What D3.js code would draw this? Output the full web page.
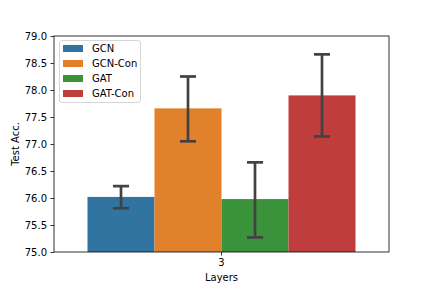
<!DOCTYPE html>
<html><head><meta charset="utf-8">
<script src="https://cdn.jsdelivr.net/npm/d3@7"></script>
<style>body{margin:0;background:#fff}svg{display:block;font-family:"DejaVu Sans",sans-serif}</style>
</head><body><svg id="c" width="432" height="288"></svg>
<script>
const categories = ["3"];
const series = ["GCN", "GCN-Con", "GAT", "GAT-Con"];
const means = [76.02, 77.66, 75.98, 77.90];
const errLow = [75.81, 77.05, 75.27, 77.14];
const errHigh = [76.22, 78.25, 76.66, 78.66];
const colors = ["#3274a1", "#e1812c", "#3a923a", "#c03d3e"];
const yTicks = [75.0, 75.5, 76.0, 76.5, 77.0, 77.5, 78.0, 78.5, 79.0];

const svg = d3.select("#c");
const m = {l: 54, r: 389, t: 36, b: 252};
const x = d3.scaleBand().domain(categories).range([m.l, m.r]).paddingInner(0).paddingOuter(0);
const y = d3.scaleLinear().domain([75, 79]).range([m.b, m.t]);
const xs = d3.scaleBand().domain(series).range([0, x.bandwidth()*0.8]);
const off = x.bandwidth()*0.1;

const g = svg.append("g");
series.forEach((s, i) => {
  const x0 = x(categories[0]) + off + xs(s);
  g.append("rect").attr("x", x0).attr("y", y(means[i])).attr("width", xs.bandwidth())
    .attr("height", y(75) - y(means[i])).attr("fill", colors[i]);
});
series.forEach((s, i) => {
  const cx = x(categories[0]) + off + xs(s) + xs.bandwidth()/2;
  const cw = xs.bandwidth()*0.12;
  const e = g.append("g").attr("stroke", "#424242").attr("stroke-width", 2.7).attr("fill", "none");
  e.append("line").attr("x1", cx).attr("x2", cx).attr("y1", y(errLow[i])).attr("y2", y(errHigh[i]));
  e.append("line").attr("x1", cx-cw).attr("x2", cx+cw).attr("y1", y(errLow[i])).attr("y2", y(errLow[i]));
  e.append("line").attr("x1", cx-cw).attr("x2", cx+cw).attr("y1", y(errHigh[i])).attr("y2", y(errHigh[i]));
});

const ya = svg.append("g").attr("transform", `translate(${m.l},0)`)
  .call(d3.axisLeft(y).tickValues(yTicks).tickFormat(d3.format(".1f")).tickSize(3.5).tickPadding(3.5));
const xa = svg.append("g").attr("transform", `translate(0,${m.b})`)
  .call(d3.axisBottom(x).tickSize(3.5).tickPadding(3.5));
[ya, xa].forEach(a => {
  a.select(".domain").remove();
  a.selectAll("line").attr("stroke", "#000").attr("stroke-width", 0.8);
  a.selectAll("text").attr("font-size", 10).attr("fill", "#000").attr("font-family", "DejaVu Sans");
});
svg.append("rect").attr("x", m.l).attr("y", m.t).attr("width", m.r - m.l).attr("height", m.b - m.t)
  .attr("fill", "none").attr("stroke", "#000").attr("stroke-width", 0.8);

svg.append("text").attr("x", (m.l+m.r)/2).attr("y", 281).attr("text-anchor", "middle")
  .attr("font-size", 10).text("Layers");
svg.append("text").attr("transform", `translate(18.5,${(m.t+m.b)/2}) rotate(-90)`).attr("text-anchor", "middle")
  .attr("font-size", 10).text("Test Acc.");

const lg = svg.append("g");
lg.append("rect").attr("x", 59.5).attr("y", 40.5).attr("width", 81).attr("height", 62).attr("rx", 2.5)
  .attr("fill", "#fff").attr("fill-opacity", 0.8).attr("stroke", "#cccccc").attr("stroke-width", 0.8);
series.forEach((s, i) => {
  const ry = 45 + i*15;
  lg.append("rect").attr("x", 63).attr("y", ry).attr("width", 20).attr("height", 7).attr("fill", colors[i]);
  lg.append("text").attr("x", 92).attr("y", ry + 7).attr("font-size", 10).text(s);
});
</script></body></html>
